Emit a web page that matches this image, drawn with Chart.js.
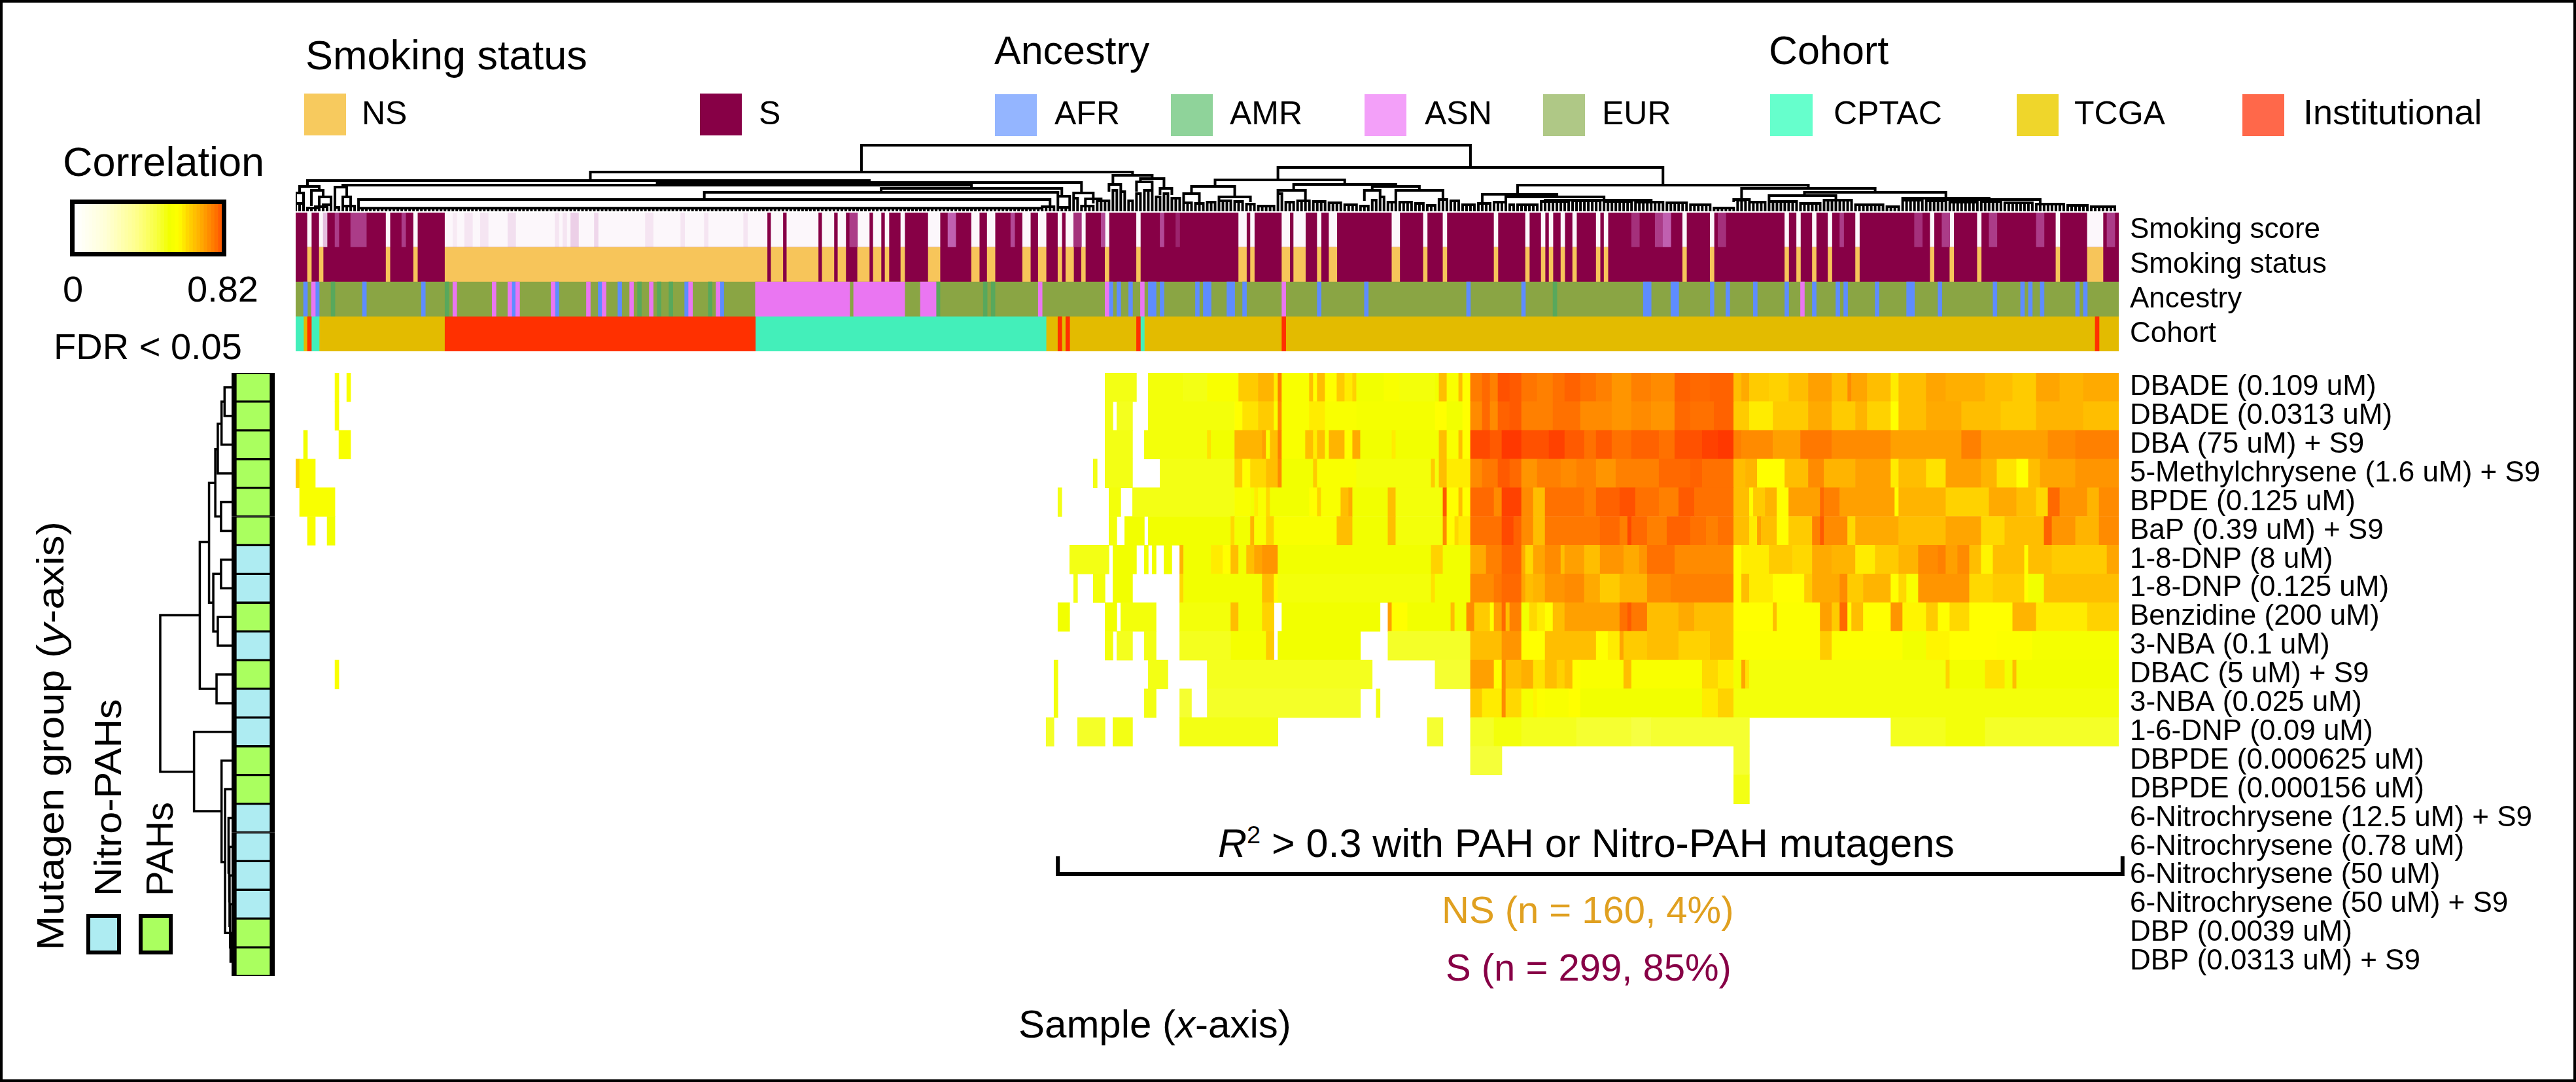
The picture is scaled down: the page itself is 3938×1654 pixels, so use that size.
<!DOCTYPE html>
<html>
<head>
<meta charset="utf-8">
<script src="https://cdn.jsdelivr.net/npm/chart.js@4/dist/chart.umd.min.js"></script>
<style>
  html, body { margin: 0; padding: 0; background: #fff; }
  #page { position: relative; width: 3938px; height: 1654px; box-sizing: border-box; overflow: hidden; font-family: "Liberation Sans", Arial, sans-serif; color: #000; }
  #frame { position: absolute; inset: 0; border: 4px solid #000; box-sizing: border-box; }
  canvas { position: absolute; }
  .t { position: absolute; white-space: nowrap; line-height: 1; }
  .sw { position: absolute; }
  .rot { transform-origin: 0 0; }
  sup { font-size: 62%; line-height: 0; }
</style>
</head>
<body>
<div id="page">
  <div id="frame"></div>

  <div class="t" style="left:467px;top:53px;font-size:63px">Smoking status</div>
  <div class="t" style="left:1520px;top:47px;font-size:61px">Ancestry</div>
  <div class="t" style="left:2704px;top:47px;font-size:61px">Cohort</div>

  <div class="sw" style="left:465px;top:143px;width:64px;height:64px;background:#f7ca5e"></div>
  <div class="t" style="left:553px;top:148px;font-size:50px">NS</div>
  <div class="sw" style="left:1070px;top:143px;width:64px;height:64px;background:#870046"></div>
  <div class="t" style="left:1160px;top:148px;font-size:50px">S</div>
  <div class="sw" style="left:1521px;top:144px;width:64px;height:64px;background:#94b5ff"></div>
  <div class="t" style="left:1612px;top:148px;font-size:50px">AFR</div>
  <div class="sw" style="left:1790px;top:144px;width:64px;height:64px;background:#8fd39a"></div>
  <div class="t" style="left:1880px;top:148px;font-size:50px">AMR</div>
  <div class="sw" style="left:2086px;top:144px;width:64px;height:64px;background:#f3a0f9"></div>
  <div class="t" style="left:2178px;top:148px;font-size:50px">ASN</div>
  <div class="sw" style="left:2359px;top:144px;width:64px;height:64px;background:#afc886"></div>
  <div class="t" style="left:2449px;top:148px;font-size:50px">EUR</div>
  <div class="sw" style="left:2706px;top:144px;width:65px;height:64px;background:#66ffcc"></div>
  <div class="t" style="left:2803px;top:148px;font-size:50px">CPTAC</div>
  <div class="sw" style="left:3083px;top:144px;width:64px;height:64px;background:#efd62b"></div>
  <div class="t" style="left:3171px;top:148px;font-size:50px">TCGA</div>
  <div class="sw" style="left:3428px;top:144px;width:64px;height:64px;background:#ff684a"></div>
  <div class="t" style="left:3521px;top:144px;font-size:54px">Institutional</div>

  <div class="t" style="left:96px;top:216px;font-size:63px">Correlation</div>
  <div class="t" style="left:96px;top:414px;font-size:56px">0</div>
  <div class="t" style="left:286px;top:414px;font-size:56px">0.82</div>
  <div class="t" style="left:82px;top:502px;font-size:56px">FDR &lt; 0.05</div>

  <div class="t rot" style="left:48px;top:1453px;font-size:58px;transform:rotate(-90deg) scaleX(1.1)">Mutagen group (<i>y</i>-axis)</div>
  <div class="t rot" style="left:136px;top:1370px;font-size:58px;transform:rotate(-90deg) scaleX(1.055)">Nitro-PAHs</div>
  <div class="t rot" style="left:215px;top:1370px;font-size:58px;transform:rotate(-90deg)">PAHs</div>
  <div class="sw" style="left:132px;top:1397px;width:41px;height:50px;background:#aeecf2;border:6px solid #000"></div>
  <div class="sw" style="left:212px;top:1397px;width:40px;height:50px;background:#aaff5f;border:6px solid #000"></div>

  <div class="t" style="left:1862px;top:1259px;font-size:61px"><i>R</i><sup>2</sup> &gt; 0.3 with PAH or Nitro-PAH mutagens</div>
  <div class="t" style="left:2204px;top:1362px;font-size:58px;color:#e0a020">NS (n = 160, 4%)</div>
  <div class="t" style="left:2210px;top:1450px;font-size:58px;color:#870046">S (n = 299, 85%)</div>
  <div class="t" style="left:1557px;top:1536px;font-size:60px">Sample (<i>x</i>-axis)</div>
</div>

<script>
const nSamples = 464;

const mutagens = [
  "DBADE (0.109 uM)", "DBADE (0.0313 uM)", "DBA (75 uM) + S9", "5-Methylchrysene (1.6 uM) + S9",
  "BPDE (0.125 uM)", "BaP (0.39 uM) + S9", "1-8-DNP (8 uM)", "1-8-DNP (0.125 uM)",
  "Benzidine (200 uM)", "3-NBA (0.1 uM)", "DBAC (5 uM) + S9", "3-NBA (0.025 uM)",
  "1-6-DNP (0.09 uM)", "DBPDE (0.000625 uM)", "DBPDE (0.000156 uM)",
  "6-Nitrochrysene (12.5 uM) + S9", "6-Nitrochrysene (0.78 uM)", "6-Nitrochrysene (50 uM)",
  "6-Nitrochrysene (50 uM) + S9", "DBP (0.0039 uM)", "DBP (0.0313 uM) + S9"
];
const mutagenGroup = ["PAH","PAH","PAH","PAH","PAH","PAH","Nitro","Nitro","PAH","Nitro","PAH",
  "Nitro","Nitro","PAH","PAH","Nitro","Nitro","Nitro","Nitro","PAH","PAH"];

const tracks = ["Smoking score", "Smoking status", "Ancestry", "Cohort"];

// heatmap rows: sample index where a run starts, then its correlation (0 = not significant)
const rowDBADE109 = [10,.4,11,0,13,.4,14,0,206,.36,214,0,217,.37,226,.36,232,.4,240,.48,245,.52,249,.44,250,.62,251,.4,258,.5,259,.42,260,.5,262,.42,265,.48,267,.44,269,.47,270,.38,277,.4,281,.37,290,.38,291,.5,293,.4,296,.5,297,.42,299,.63,302,.68,304,.62,306,.74,309,.72,312,.65,316,.62,320,.66,323,.7,327,.66,331,.62,335,.58,340,.62,345,.6,351,.7,355,.68,360,.7,366,.5,368,.54,370,.48,375,.47,380,.5,385,.56,391,.5,395,.6,396,.55,400,.5,406,.44,408,.5,415,.55,420,.53,430,.5,437,.48,443,.55,449,.52,455,.54,464,0];
const rowDBADE031 = [10,.4,11,0,206,.36,208,0,209,.35,213,0,217,.37,239,.42,241,.45,245,.48,249,.4,250,.6,251,.4,258,.44,262,.4,270,.39,290,.42,293,.38,297,.42,299,.6,302,.68,304,.6,306,.7,309,.72,312,.62,320,.66,327,.6,335,.58,340,.6,345,.58,351,.68,355,.66,361,.7,366,.48,370,.44,376,.48,385,.54,391,.48,397,.52,400,.47,406,.42,408,.5,415,.54,424,.5,434,.48,443,.52,455,.5,464,0];
const rowDBA = [2,.38,3,0,11,.4,14,0,206,.36,213,0,216,.37,232,.45,233,.38,239,.52,246,.56,247,.4,248,.5,250,.62,251,.4,257,.5,259,.44,260,.5,262,.4,263,.52,267,.42,269,.54,271,.38,279,.44,280,.38,291,.5,293,.4,296,.5,297,.42,299,.76,304,.72,307,.8,312,.74,319,.78,323,.72,328,.66,331,.72,335,.66,340,.7,347,.66,351,.74,358,.78,362,.8,366,.62,368,.6,376,.56,383,.64,391,.6,406,.56,424,.62,429,.56,446,.6,453,.62,464,0];
const rowMethylchrysene = [0,.47,1,.4,5,0,203,.36,204,0,206,.36,213,0,220,.36,239,.48,241,.42,243,.46,247,.5,250,.6,251,.38,259,.48,260,.4,270,.37,289,.48,290,.37,291,.5,293,.44,299,.6,302,.64,306,.72,309,.68,312,.58,316,.62,322,.6,326,.62,331,.58,336,.62,347,.68,355,.7,358,.66,366,.5,369,.52,372,.42,379,.5,385,.6,389,.52,397,.56,406,.44,408,.5,415,.45,420,.56,429,.52,433,.45,438,.42,441,.5,444,.55,453,.58,464,0];
const rowBPDE = [1,.4,10,0,194,.36,195,0,207,.37,210,0,213,.36,239,.4,243,.38,244,.44,245,.4,247,.46,248,.38,258,.42,260,.47,261,.4,266,.5,268,.54,269,.38,278,.5,280,.37,292,.72,293,.42,296,.5,297,.42,299,.68,305,.6,307,.78,312,.6,315,.5,318,.66,328,.62,331,.7,337,.74,341,.66,347,.62,352,.72,356,.66,366,.5,370,.42,371,.48,374,.52,377,.42,380,.56,388,.68,389,.62,393,.56,407,.42,408,.52,420,.47,431,.54,438,.5,443,.46,446,.68,449,.58,456,.52,459,.6,464,0];
const rowBaP = [3,.4,5,0,8,.38,10,0,207,.37,209,0,211,.38,216,0,217,.38,238,.46,239,.38,243,.52,244,.4,247,.47,249,.4,265,.5,269,.38,278,.5,280,.37,292,.6,293,.42,295,.46,296,.44,299,.66,307,.76,310,.7,312,.6,315,.5,318,.64,332,.68,337,.62,339,.76,340,.68,344,.62,349,.7,355,.66,359,.62,362,.66,366,.5,370,.44,372,.56,373,.5,377,.42,380,.48,386,.62,388,.72,389,.6,395,.46,397,.54,408,.5,420,.55,429,.46,435,.5,445,.7,447,.58,453,.52,459,.6,464,0];
const rowDNP8 = [197,.36,207,0,208,.38,214,0,216,.38,217,0,218,.38,219,0,221,.38,223,0,225,.52,226,.38,233,.44,236,.42,238,.5,240,.38,242,.5,244,.55,246,.58,250,.38,289,.47,292,.38,299,.54,303,.62,307,.7,312,.54,313,.46,315,.55,318,.6,322,.5,323,.56,328,.5,332,.58,338,.54,342,.58,344,.66,351,.6,366,.42,368,.44,375,.48,381,.46,386,.54,391,.52,397,.44,402,.48,408,.52,413,.6,418,.62,420,.56,423,.6,426,.5,429,.43,432,.5,440,.42,441,.5,447,.48,461,.55,464,0];
const rowDNP125 = [198,.36,199,0,203,.37,206,0,208,.38,213,0,225,.46,226,.38,246,.5,249,.42,250,.37,289,.45,290,.38,299,.6,305,.64,307,.68,312,.55,313,.5,315,.52,318,.58,323,.6,328,.54,332,.48,337,.52,344,.6,350,.62,366,.42,368,.5,370,.44,376,.42,384,.48,386,.54,393,.6,395,.48,399,.52,406,.42,408,.46,410,.4,413,.58,426,.46,432,.48,440,.42,441,.38,445,.5,464,0];
const rowBenzidine = [194,.38,197,0,206,.38,209,0,210,.37,219,0,225,.37,238,.5,240,.38,246,.47,249,0,251,.38,276,0,278,.56,279,.42,283,.38,294,.5,295,.38,298,.6,300,.48,304,.42,305,.56,307,.68,308,.5,309,.62,312,.38,314,.46,316,.44,318,.42,320,.5,323,.56,327,.56,337,.66,339,.72,340,.64,344,.5,352,.54,356,.5,366,.42,376,.5,377,.41,388,.56,391,.48,393,.68,395,.42,396,.5,399,.42,406,.58,409,.43,415,.48,418,.42,421,.46,426,.42,437,.52,443,.44,456,.47,464,0];
const rowNBA1 = [206,.37,208,0,209,.35,213,0,216,.36,219,0,225,.35,238,.39,247,.48,249,0,250,.38,271,0,278,.34,299,.5,307,.58,312,.42,318,.5,324,.5,331,.42,334,.44,337,.55,338,.48,344,.5,352,.47,360,.5,366,.41,388,.48,391,.41,409,.38,415,.43,421,.42,433,.41,442,.39,464,0];
const rowDBAC = [10,.4,11,0,193,.37,194,0,217,.36,222,0,232,.35,274,0,290,.33,299,.56,305,.42,307,.6,308,.5,312,.53,315,.45,318,.5,321,.47,323,.5,325,.42,327,.4,338,.5,340,.4,358,.46,362,.44,366,.38,368,.55,369,.45,370,.37,420,.47,421,.38,430,.45,435,.38,437,.5,438,.38,464,0];
const rowNBA025 = [193,.37,194,0,216,.36,219,0,225,.33,228,0,232,.34,271,0,275,.36,276,0,299,.48,302,.44,307,.6,308,.46,312,.39,315,.43,316,.41,318,.4,324,.42,327,.38,358,.44,362,.47,366,.37,464,0];
const rowDNP09 = [191,.34,193,0,199,.34,206,0,208,.36,213,0,225,.36,250,0,288,.33,292,0,299,.34,305,.37,312,.35,326,.33,340,.31,345,.33,370,0,406,.35,420,.37,430,.34,464,0];
const rowDBPDE625 = [299,.32,307,0,366,.33,370,0];
const rowDBPDE156 = [366,.36,370,0];
const heatRows = [rowDBADE109, rowDBADE031, rowDBA, rowMethylchrysene, rowBPDE, rowBaP, rowDNP8, rowDNP125,
  rowBenzidine, rowNBA1, rowDBAC, rowNBA025, rowDNP09, rowDBPDE625, rowDBPDE156, [], [], [], [], [], []];

// annotation tracks: start,end sample pairs
const neverSmokers = [3,4,6,7,23,24,30,31,38,120,121,124,125,133,134,137,138,140,143,146,147,149,150,151,154,155,161,164,172,174,176,178,185,187,189,191,194,195,196,198,200,201,206,207,214,215,240,242,243,244,251,253,254,257,260,261,263,265,279,281,287,288,292,293,305,306,313,314,317,318,319,320,322,323,325,326,331,332,333,334,353,354,360,361,379,380,382,383,386,387,390,391,397,398,416,417,421,422,428,429,448,449,456,460];
// start,end,score for samples whose smoking score differs from their status
const scoreShades = [7,8,.25, 10,11,.75, 14,18,.75, 27,28,.75, 40,41,.08, 43,45,.1, 47,49,.1, 54,56,.12, 66,67,.1, 68,69,.1, 70,72,.18, 76,77,.15, 89,91,.1, 98,99,.1, 104,105,.1, 114,115,.1,
  141,143,.75, 166,168,.6, 182,183,.7, 198,200,.8, 205,206,.7, 220,221,.7, 224,225,.85, 340,342,.8, 346,348,.75, 348,350,.6, 362,364,.8, 393,394,.75, 412,414,.8, 419,421,.75, 431,433,.75, 443,445,.75, 461,463,.75];
const ancestryAFR = [2,3,5,6,17,18,32,33,55,56,66,67,77,78,82,83,99,100,108,109,207,208,209,210,212,213,217,219,220,221,229,230,231,233,237,239,241,242,260,261,272,273,298,299,312,313,343,345,350,352,360,361,364,365,371,372,379,380,386,387,392,393,394,395,402,403,410,412,418,419,432,433,439,440,441,442,444,445,453,454,455,456];
const ancestryAMR = [9,10,38,39,87,88,92,93,95,96,105,106,163,164,175,176,177,178,320,321];
const ancestryASN = [4,5,40,41,50,51,54,55,56,57,65,66,74,75,78,79,85,86,90,91,100,101,107,108,117,141,142,155,159,163,189,190,206,207,215,216,251,252,383,384];
const cohortCPTAC = [0,2,4,6,117,191,215,216];
const cohortInstitutional = [3,4,38,117,194,195,196,197,214,215,251,252,458,459];
const cohortTCGA = [2,3,6,38,191,194,195,196,197,214,216,251,252,458,459,464];

// top dendrogram: left sample, left height, right sample, right height, merge height
const topBranches = [
  [144,58,299,65,99],[75,45,213,53,58],[3,36,146,42,45],[92,38,200,26,42],[12,35,172,33,38],[149,27,195,21,33],
  [104,16,194,20,27],[16,3,192,5,16],[1,26,6,30,36],[0,10,2,10,26],[4,8,7,20,30],[6,8,9,8,20],[10,8,13,20,35],[12,6,14,6,20],
  [194,4,197,4,21],[198,5,203,12,26],[201,3,205,3,17],[208,39,218,48,53],[215,43,221,33,48],[214,30,218,30,43],[220,25,223,25,33],[207,30,210,30,39],
  [250,46,348,38,65],[234,36,267,39,46],[228,25,239,20,36],[226,12,230,12,25],[235,14,243,14,20],[254,30,280,36,39],[250,25,257,16,30],[274,30,286,30,36],[272,16,276,20,30],[280,14,292,16,30],
  [311,24,385,33,38],[302,10,321,20,24],[308,12,333,15,20],[318,14,345,13,15],[368,16,402,27,33],[384,22,420,18,27],[375,14,392,15,22],[409,15,431,16,18],[366,14,370,12,16],[420,15,444,12,16]
];
// runs of leaves joined at one height: first sample, last sample, height
const topCombs = [[0,2,10],[3,6,3],[5,8,5],[7,9,8],[10,11,4],[12,15,6],[16,190,2.7],[190,193,5],[194,197,4],[198,199,18],[200,203,6],[204,207,14],
  [208,209,30],[210,211,28],[212,213,14],[214,215,25],[216,218,30],[219,220,20],[221,222,25],[223,225,18],[226,228,11],[229,231,10],[232,234,12],[235,238,14],[239,241,13],[242,244,9],[245,249,6],
  [250,251,25],[252,254,12],[255,258,14],[259,262,13],[263,266,11],[267,270,8],[271,273,6],[274,275,15],[276,277,20],[278,280,12],[281,284,12],[285,287,10],[288,290,7],[291,293,16],[294,296,14],[297,300,8],[301,304,10],[305,308,12],[309,310,8],
  [311,316,8],[317,324,13],[325,332,14],[333,340,13],[341,348,12],[349,354,11],[355,360,8],[361,366,3],[367,369,15],[370,374,12],[375,382,13],[383,388,10],[389,396,15],[397,404,8],[405,408,5],[409,414,15],[415,420,14],[421,428,12],[429,434,13],[435,442,11],[443,450,9],[451,456,7],[457,463,5]];

// left dendrogram: upper row, upper height, lower row, lower height, merge height
const leftBranches = [
  [1,0,2,0,.28],[1.5,.28,3,0,.4],[2.27,.4,4,0,.55],[5,0,6,0,.42],[3.16,.55,5.5,.42,.65],[7,0,8,0,.42],[9,0,10,0,.55],[7.5,.42,9.5,.55,.73],
  [4.33,.65,8.5,.73,.9],[11,0,12,0,.6],[6.39,.9,11.5,.6,1.27],[8.94,1.27,14.39,1.5,2.85],[13,0,15.76,.4,1.5],[14,0,17.53,.26,.4],[15,0,20,.1,.26],
  [20,0,21,0,.04],[19,0,20.5,.04,.06],[18,0,19.75,.06,.08],[17,0,18.9,.08,.1],[16,0,17.9,.1,.12]
];

const colorbarSteps = [0,.02,.04,.06,.08,.1,.12,.14,.16,.18,.2,.22,.24,.26,.28,.3,.32,.34,.36,.38,.4,.42,.44,.46,.48,.5,.52,.54,.56,.58,.6,.62,.64,.66,.68,.7,.72,.74,.76,.78,.8,.82];

const heatStops = [[0,[255,255,255]],[.2,[253,255,160]],[.3,[246,255,74]],[.34,[244,255,40]],[.38,[242,255,0]],[.42,[255,255,0]],
  [.46,[255,216,0]],[.5,[255,190,0]],[.56,[255,160,0]],[.62,[255,128,0]],[.7,[255,98,0]],[.82,[255,48,0]]];
const barStops = [[0,[255,255,255]],[.16,[255,255,216]],[.33,[254,255,144]],[.45,[248,255,64]],[.52,[242,255,0]],[.57,[255,255,0]],
  [.62,[255,216,0]],[.7,[255,168,0]],[.78,[255,112,0]],[.82,[255,74,0]]];
const scoreStops = [[0,[255,255,255]],[.6,[192,96,176]],[1,[135,0,70]]];

function rampColor(stops, v) {
  let k = 0;
  while (k < stops.length - 2 && v > stops[k + 1][0]) k++;
  const a = stops[k], b = stops[k + 1];
  const t = Math.min(1, (v - a[0]) / (b[0] - a[0]));
  const c = a[1].map((x, j) => Math.round(x + (b[1][j] - x) * t));
  return `rgb(${c[0]},${c[1]},${c[2]})`;
}

function addCanvas(left, top, width, height) {
  const c = document.createElement("canvas");
  c.width = width;
  c.height = height;
  c.style.left = left + "px";
  c.style.top = top + "px";
  c.style.width = width + "px";
  c.style.height = height + "px";
  document.getElementById("page").appendChild(c);
  return c;
}

const base = { responsive: false, animation: false, devicePixelRatio: 1, layout: { padding: 0 },
  plugins: { legend: { display: false }, tooltip: { enabled: false } } };

// cells on a category axis, optional row labels on the right
function cellChart(left, top, width, height, areaWidth, xMax, labels, cells, fontSize) {
  const yAxis = { type: "category", labels: labels, display: false };
  if (fontSize) {
    yAxis.display = true;
    yAxis.position = "right";
    yAxis.grid = { display: false, drawTicks: false };
    yAxis.border = { display: false };
    yAxis.ticks = { autoSkip: false, color: "#000", padding: 17, font: { family: "Liberation Sans", size: fontSize } };
    yAxis.afterFit = s => { s.width = width - areaWidth; s.paddingTop = 0; s.paddingBottom = 0; };
  }
  return new Chart(addCanvas(left, top, width, height), {
    type: "bar",
    data: { labels: labels, datasets: [{
      data: cells.map(c => ({ x: [c.from, c.to], y: c.row })),
      backgroundColor: cells.map(c => c.color),
      borderColor: cells.map(c => c.border || "rgba(0,0,0,0)"),
      borderWidth: cells.map(c => c.border ? { left: 8, right: 8, top: 2, bottom: 2 } : 0),
      borderSkipped: false,
      barPercentage: 1, categoryPercentage: 1
    }] },
    options: { ...base, indexAxis: "y", scales: { x: { type: "linear", min: 0, max: xMax, display: false }, y: yAxis } }
  });
}

function lineChart(left, top, width, height, xRange, yRange, points, lineWidth) {
  return new Chart(addCanvas(left, top, width, height), {
    type: "scatter",
    data: { datasets: [{ data: points, showLine: true, spanGaps: false, borderColor: "#000", borderWidth: lineWidth,
      pointRadius: 0, clip: false, tension: 0, borderJoinStyle: "miter", borderCapStyle: "square" }] },
    options: { ...base, scales: {
      x: { type: "linear", display: false, min: xRange[0], max: xRange[1], reverse: xRange[2] === true },
      y: { type: "linear", display: false, min: yRange[0], max: yRange[1], reverse: yRange[2] === true } } }
  });
}

const gap = { x: null, y: null };

// heatmap
const heatCells = [];
heatRows.forEach((flat, r) => {
  for (let k = 0; k + 2 < flat.length; k += 2) {
    if (flat[k + 1] > 0) heatCells.push({ from: flat[k], to: flat[k + 2], row: mutagens[r], color: rampColor(heatStops, flat[k + 1]) });
  }
});
cellChart(452, 570, 3480, 922, 2787, nSamples, mutagens, heatCells, 44);

// annotation tracks
function spans(flat, row, color, out) {
  for (let k = 0; k + 1 < flat.length; k += 2) out.push({ from: flat[k], to: flat[k + 1], row: row, color: color });
}
const trackCells = [];
trackCells.push({ from: 0, to: nSamples, row: tracks[0], color: rampColor(scoreStops, 1) });
spans(neverSmokers, tracks[0], rampColor(scoreStops, .03), trackCells);
for (let k = 0; k < scoreShades.length; k += 3) trackCells.push({ from: scoreShades[k], to: scoreShades[k + 1], row: tracks[0], color: rampColor(scoreStops, scoreShades[k + 2]) });
trackCells.push({ from: 0, to: nSamples, row: tracks[1], color: "#870046" });
spans(neverSmokers, tracks[1], "#f7c55a", trackCells);
trackCells.push({ from: 0, to: nSamples, row: tracks[2], color: "#8aa544" });
spans(ancestryAFR, tracks[2], "#5e8cff", trackCells);
spans(ancestryAMR, tracks[2], "#58a85c", trackCells);
spans(ancestryASN, tracks[2], "#ea76f2", trackCells);
spans(cohortTCGA, tracks[3], "#e3bb00", trackCells);
spans(cohortCPTAC, tracks[3], "#43efba", trackCells);
spans(cohortInstitutional, tracks[3], "#ff3000", trackCells);
cellChart(452, 325, 3480, 212, 2787, nSamples, tracks, trackCells, 44);

// mutagen group strip
const stripCells = mutagens.map((m, r) => ({ from: 0, to: 1, row: m, color: mutagenGroup[r] === "PAH" ? "#aaff5f" : "#aeecf2", border: "#000" }));
cellChart(354, 570, 66, 922, 66, 1, mutagens, stripCells, 0);

// colour bar
const barCells = [];
for (let k = 0; k + 1 < colorbarSteps.length; k++) barCells.push({ from: colorbarSteps[k], to: colorbarSteps[k + 1], row: "Correlation", color: rampColor(barStops, colorbarSteps[k]) });
const barChart = cellChart(114, 312, 225, 73, 225, .82, ["Correlation"], barCells, 0);
barChart.canvas.style.outline = "7px solid #000";

// top dendrogram
const topPoints = [];
topBranches.forEach(b => topPoints.push({ x: b[0], y: b[1] }, { x: b[0], y: b[4] }, { x: b[2], y: b[4] }, { x: b[2], y: b[3] }, gap));
topCombs.forEach(c => {
  topPoints.push({ x: c[0], y: c[2] }, { x: c[1], y: c[2] }, gap);
  for (let s = c[0]; s <= c[1]; s++) topPoints.push({ x: s, y: c[2] }, { x: s, y: 0 }, gap);
});
lineChart(452, 215, 2787, 108, [0, nSamples], [-2, 106], topPoints, 4);

// left dendrogram
const leftPoints = [];
leftBranches.forEach(b => leftPoints.push({ x: b[1], y: b[0] }, { x: b[4], y: b[0] }, { x: b[4], y: b[2] }, { x: b[3], y: b[2] }, gap));
lineChart(240, 570, 114, 922, [0, 2.98, true], [.5, 21.5, true], leftPoints, 3.5);

// bracket under the correlated samples
const bracketPoints = [{ x: 194, y: 12 }, { x: 194, y: 36 }, { x: 465, y: 36 }, { x: 465, y: 12 }];
lineChart(452, 1300, 2800, 45, [0, 466.2], [0, 45, true], bracketPoints, 6);
</script>
</body>
</html>
